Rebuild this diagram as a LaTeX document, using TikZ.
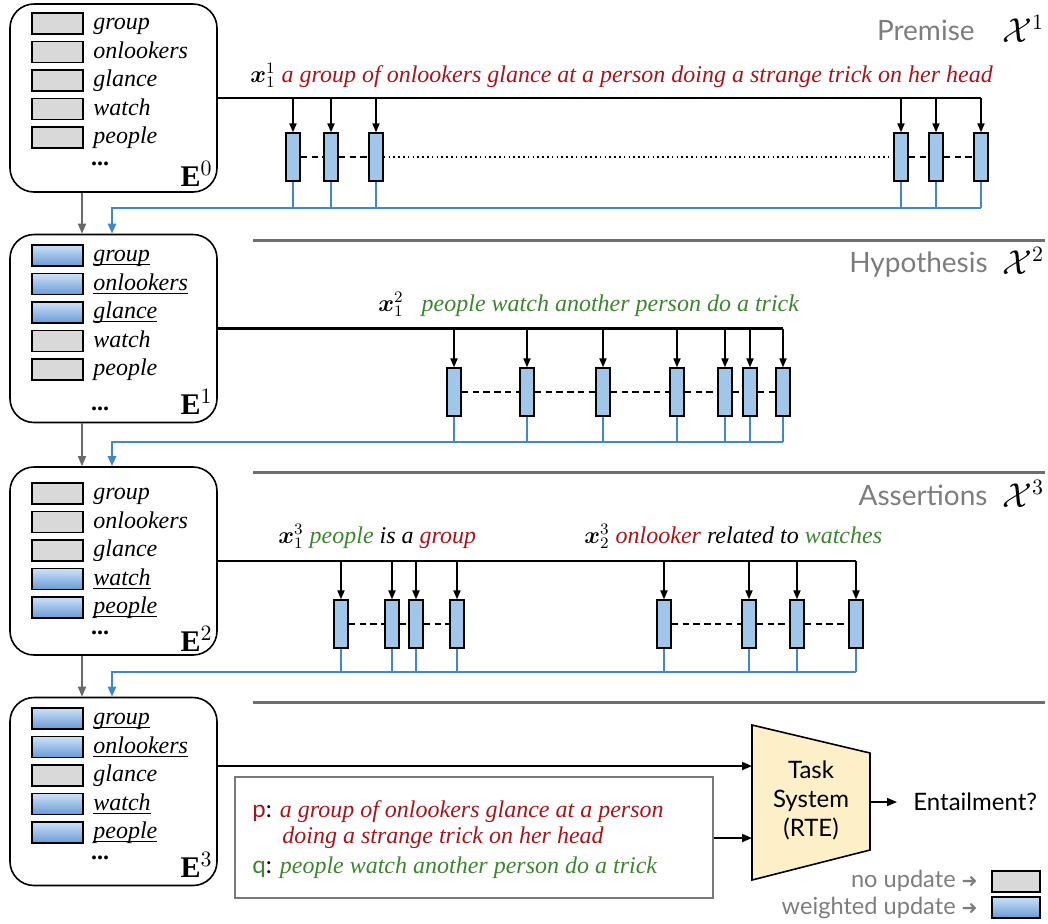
\documentclass[tikz,border=0pt]{standalone}
\usepackage{fontspec}
\usepackage{amsmath}
\usepackage{bm}
\setmainfont{Liberation Serif}
\newfontfamily\sansf{Lato}
\newfontfamily\djv{DejaVu Sans}
\usetikzlibrary{arrows.meta}
\definecolor{myred}{RGB}{170,20,25}
\definecolor{mygreen}{RGB}{60,135,45}
\definecolor{headc}{RGB}{125,125,125}
\definecolor{sepc}{RGB}{110,110,110}
\definecolor{bfill}{RGB}{160,198,233}
\definecolor{bline}{RGB}{65,135,205}
\definecolor{gfill}{RGB}{217,217,217}
\definecolor{btop}{RGB}{205,225,247}
\definecolor{bbot}{RGB}{105,155,215}
\definecolor{garrc}{RGB}{105,105,105}
\definecolor{trapc}{RGB}{253,240,200}
\definecolor{pqc}{RGB}{120,120,120}
\newcommand\wtxt[2]{\if b#1\underline{\smash{#2}}\else #2\fi}
\begin{document}
\begin{tikzpicture}[x=0.5pt,y=-0.5pt,
  ebox/.style={draw,line width=0.8pt,rounded corners=12pt,minimum width=103.5pt,minimum height=94pt,inner sep=0pt},
  wg/.style={draw,line width=0.75pt,fill=gfill,minimum width=25.5pt,minimum height=10.5pt,inner sep=0pt},
  wb/.style={draw,line width=0.75pt,top color=btop,bottom color=bbot,minimum width=25.5pt,minimum height=10.5pt,inner sep=0pt},
  word/.style={anchor=base west,inner sep=0pt,font=\fontsize{12pt}{14pt}\selectfont\itshape},
  elab/.style={anchor=base east,inner sep=0pt,font=\fontsize{15pt}{18pt}\selectfont},
  edots/.style={inner sep=0pt,font=\fontsize{12pt}{14pt}\selectfont\bfseries},
  tbox/.style={draw,line width=0.7pt,fill=bfill,minimum width=7pt,minimum height=24pt,inner sep=0pt},
  drop/.style={line width=0.7pt,-{Triangle[length=4.5pt,width=3.6pt]}},
  mainl/.style={line width=1.2pt},
  bthin/.style={draw=bline,line width=0.6pt},
  bthick/.style={draw=bline,line width=1.2pt,-{Triangle[length=5pt,width=4pt]}},
  garr/.style={draw=garrc,line width=0.8pt,-{Triangle[length=5pt,width=4pt]}},
  sepl/.style={draw=sepc,line width=1.5pt},
  head/.style={anchor=base east,inner sep=0pt,text=headc,font=\sansf\fontsize{14pt}{16pt}\selectfont},
  calx/.style={anchor=base west,inner sep=0pt,font=\fontsize{16pt}{18pt}\selectfont},
  sent/.style={anchor=base west,inner sep=0pt,font=\fontsize{12pt}{14pt}\selectfont\itshape},
  dashc/.style={line width=0.9pt,dash pattern=on 3.2pt off 2.2pt},
  dotc/.style={line width=0.8pt,dash pattern=on 0.8pt off 1.6pt},
  sans/.style={font=\sansf\fontsize{12pt}{14.5pt}\selectfont},
  arrb/.style={line width=0.8pt,-{Triangle[length=5pt,width=4pt]}},
  legt/.style={anchor=east,inner sep=0pt,text=headc,font=\sansf\fontsize{11.8pt}{14pt}\selectfont}
]
\useasboundingbox (0,0) rectangle (1048,923);

% ---------- E boxes ----------
\node[ebox] (E0) at (113.5,98) {};
\node[ebox] (E1) at (113.5,328.5) {};
\node[ebox] (E2) at (113.5,561) {};
\node[ebox] (E3) at (113.5,791.5) {};

\foreach \k/\w/\s in {0/group/g,1/onlookers/g,2/glance/g,3/watch/g,4/people/g}{
  \node[w\s] (a\k) at (57.5,{23.5+28.5*\k}) {};
  \node[word] (at\k) at (93,{29.5+28.5*\k}) {\wtxt{\s}{\w}};
}
\foreach \k/\w/\s in {0/group/b,1/onlookers/b,2/glance/b,3/watch/g,4/people/g}{
  \node[w\s] (b\k) at (57.5,{255.5+28.5*\k}) {};
  \node[word] (bt\k) at (93,{261.5+28.5*\k}) {\wtxt{\s}{\w}};
}
\foreach \k/\w/\s in {0/group/g,1/onlookers/g,2/glance/g,3/watch/b,4/people/b}{
  \node[w\s] (c\k) at (57.5,{493.5+28.5*\k}) {};
  \node[word] (ct\k) at (93,{499.5+28.5*\k}) {\wtxt{\s}{\w}};
}
\foreach \k/\w/\s in {0/group/b,1/onlookers/b,2/glance/g,3/watch/b,4/people/b}{
  \node[w\s] (d\k) at (57.5,{718.5+28.5*\k}) {};
  \node[word] (dt\k) at (93,{724.5+28.5*\k}) {\wtxt{\s}{\w}};
}
\node[edots] (E0d) at (100,164) {...};
\node[edots] (E1d) at (100,409) {...};
\node[edots] (E2d) at (100,633) {...};
\node[edots] (E3d) at (100,858) {...};
\node[elab] (E0l) at (213,186) {$\mathbf{E}^0$};
\node[elab] (E1l) at (213,414) {$\mathbf{E}^1$};
\node[elab] (E2l) at (213,651) {$\mathbf{E}^2$};
\node[elab] (E3l) at (213,877) {$\mathbf{E}^3$};

% ---------- headings ----------
\node[head] (hp) at (975,40) {Premise};
\node[calx] (xp) at (1002,42) {$\mathcal{X}^1$};
\node[head] (hh) at (988,272) {Hypothesis};
\node[calx] (xh) at (1002,274) {$\mathcal{X}^2$};
\node[head] (ha) at (988,505) {Assertions};
\node[calx] (xa) at (1002,507) {$\mathcal{X}^3$};

\coordinate (s1a) at (253,240); \coordinate (s1b) at (1045,240);
\coordinate (s2a) at (253,472); \coordinate (s2b) at (1045,472);
\coordinate (s3a) at (253,702); \coordinate (s3b) at (1045,702);
\draw[sepl] (s1a) -- (s1b);
\draw[sepl] (s2a) -- (s2b);
\draw[sepl] (s3a) -- (s3b);

% ---------- sentences ----------
\node[sent] (s1) at (250,82) {$\bm{x}_1^1$ \textcolor{myred}{a group of onlookers glance at a person doing a strange trick on her head}};
\node[sent] (s2) at (378,311) {$\bm{x}_1^2$\hspace{9pt}\textcolor{mygreen}{people watch another person do a trick}};
\node[sent] (s3) at (278,543) {$\bm{x}_1^3$ \textcolor{mygreen}{people} is a \textcolor{myred}{group}};
\node[sent] (s4) at (584,543) {$\bm{x}_2^3$ \textcolor{myred}{onlooker} related to \textcolor{mygreen}{watches}};

% ---------- row 1 ----------
\foreach \i/\x in {1/293,2/331,3/376,4/901,5/936,6/981}{
  \node[tbox] (p\i) at (\x,157) {};
}
\coordinate (B1) at (112,208);
\draw[mainl] (E0.east) -- (E0.east -| p6.north);
\foreach \i in {1,...,6}{
  \draw[drop] (p\i.north |- E0.east) -- (p\i.north);
  \draw[bthin] (p\i.south) -- (p\i.south |- B1);
}
\draw[dashc] (p1.east) -- (p2.west);
\draw[dashc] (p2.east) -- (p3.west);
\draw[dotc] (p3.east) -- (p4.west);
\draw[dashc] (p4.east) -- (p5.west);
\draw[dashc] (p5.east) -- (p6.west);
\draw[bthick] (p6.south |- B1) -- (B1) -- (B1 |- E1.north);

% ---------- row 2 ----------
\foreach \i/\x in {1/454,2/527,3/603,4/677,5/725,6/750,7/783}{
  \node[tbox] (h\i) at (\x,392) {};
}
\coordinate (B2) at (112,442);
\draw[mainl] (E1.east) -- (E1.east -| h7.north);
\foreach \i in {1,...,7}{
  \draw[drop] (h\i.north |- E1.east) -- (h\i.north);
  \draw[bthin] (h\i.south) -- (h\i.south |- B2);
}
\foreach \i/\j in {1/2,2/3,3/4,4/5,5/6,6/7}{
  \draw[dashc] (h\i.east) -- (h\j.west);
}
\draw[bthick] (h7.south |- B2) -- (B2) -- (B2 |- E2.north);

% ---------- row 3 ----------
\foreach \i/\x in {1/341,2/392,3/416,4/457,5/664,6/749,7/797,8/856}{
  \node[tbox] (q\i) at (\x,624) {};
}
\coordinate (B3) at (112,672);
\draw[mainl] (E2.east) -- (E2.east -| q8.north);
\foreach \i in {1,...,8}{
  \draw[drop] (q\i.north |- E2.east) -- (q\i.north);
  \draw[bthin] (q\i.south) -- (q\i.south |- B3);
}
\foreach \i/\j in {1/2,2/3,3/4,5/6,6/7,7/8}{
  \draw[dashc] (q\i.east) -- (q\j.west);
}
\draw[bthick] (q8.south |- B3) -- (B3) -- (B3 |- E3.north);

% ---------- gray arrows between E boxes ----------
\coordinate (G) at (82,0);
\draw[garr] (E0.south -| G) -- (E1.north -| G);
\draw[garr] (E1.south -| G) -- (E2.north -| G);
\draw[garr] (E2.south -| G) -- (E3.north -| G);

% ---------- p/q box ----------
\node[draw=pqc,line width=0.8pt,minimum width=239pt,minimum height=60.5pt,inner sep=0pt] (pq) at (474,837.5) {};
\node[sent] (pl1) at (252,817) {{\upshape\sansf\textcolor{myred}{p}:} \textcolor{myred}{a group of onlookers glance at a person}};
\node[sent] (pl2) at (282,843) {\textcolor{myred}{doing a strange trick on her head}};
\node[sent] (pl3) at (252,873) {{\upshape\sansf\textcolor{mygreen}{q}:} \textcolor{mygreen}{people watch another person do a trick}};

% ---------- task system ----------
\coordinate (TL) at (752,725);
\coordinate (TR) at (870,753);
\coordinate (BR) at (870,850);
\coordinate (BL) at (752,880);
\draw[line width=0.8pt,fill=trapc] (TL) -- (TR) -- (BR) -- (BL) -- cycle;
\node[sans,align=center,inner sep=0pt] (task) at (811,800) {Task\\System\\(RTE)};
\coordinate (in1) at (752,766);
\coordinate (in2) at (752,838);
\draw[arrb] (E3.east |- in1) -- (in1);
\draw[arrb] (pq.east |- in2) -- (in2);
\node[sans,anchor=west,inner xsep=8pt,inner ysep=0pt] (ent) at (897,802) {Entailment?};
\coordinate (tout) at (870,802);
\draw[arrb] (tout) -- (ent.west);

% ---------- legend ----------
\node[wg,minimum width=24pt] (legG) at (1016,881.5) {};
\node[wb,minimum width=24pt] (legB) at (1016,907.5) {};
\node[legt] (lt1) at (978,881) {no update {\djv\fontsize{9.5pt}{10pt}\selectfont ➜}};
\node[legt] (lt2) at (978,908) {weighted update {\djv\fontsize{9.5pt}{10pt}\selectfont ➜}};
\end{tikzpicture}
\end{document}
